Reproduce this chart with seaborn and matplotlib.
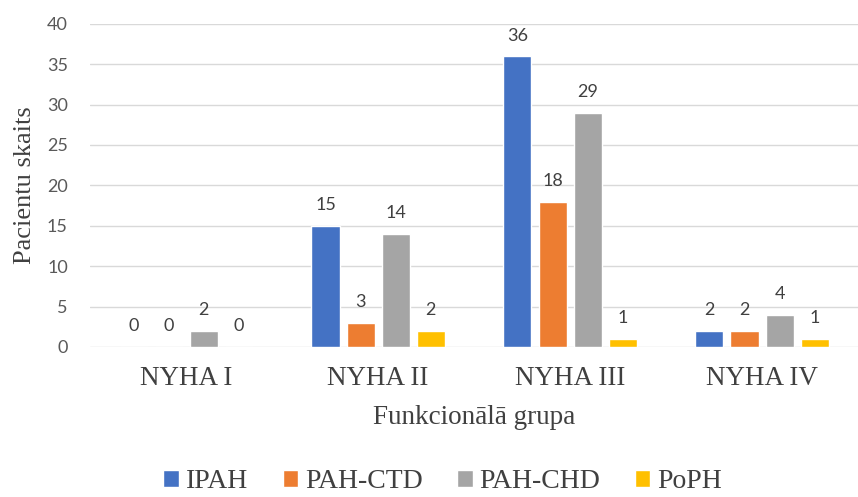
import numpy as np
import pandas as pd
import seaborn as sns
import matplotlib.pyplot as plt

# data
groups = ["NYHA I", "NYHA II", "NYHA III", "NYHA IV"]
series = ["IPAH", "PAH-CTD", "PAH-CHD", "PoPH"]
ipah = [0, 15, 36, 2]
pah_ctd = [0, 3, 18, 2]
pah_chd = [2, 14, 29, 4]
poph = [0, 2, 1, 1]
colors = ["#4472C4", "#ED7D31", "#A5A5A5", "#FFC000"]

rows = []
for name, vals in zip(series, [ipah, pah_ctd, pah_chd, poph]):
    for g, v in zip(groups, vals):
        rows.append({"grupa": g, "tips": name, "skaits": v})
df = pd.DataFrame(rows)

sns.set_style("white")
fig = plt.figure(figsize=(8.58, 4.97), dpi=100)
ax = fig.add_axes([0.105, 0.302, 0.895, 0.65])

sns.barplot(data=df, x="grupa", y="skaits", hue="tips", order=groups,
            hue_order=series, palette=colors, saturation=1,
            width=0.73, gap=0.2, ax=ax, legend=True)

for cont in ax.containers:
    ax.bar_label(cont, padding=9, fontsize=13, color="#404040", family="Lato")

ax.set_ylim(0, 40)
ax.set_xlim(-0.5, 3.5)
ax.set_yticks(range(0, 41, 5))
ax.yaxis.grid(True, color="#d9d9d9", linewidth=1)
ax.set_axisbelow(True)
sns.despine(ax=ax, left=True, bottom=True)
ax.tick_params(axis="both", length=0)
ax.tick_params(axis="y", pad=16, labelsize=13, labelcolor="#595959")
ax.tick_params(axis="x", pad=14, labelsize=19.5, labelcolor="#404040")
for t in ax.get_yticklabels():
    t.set_family("Lato")
for t in ax.get_xticklabels():
    t.set_family("Liberation Serif")

ax.set_xlabel("Funkcionālā grupa", family="Liberation Serif", fontsize=19.5,
              color="#404040", labelpad=10)
ax.set_ylabel("Pacientu skaits", family="Liberation Serif", fontsize=19,
              color="#404040", labelpad=8)

handles, labels = ax.get_legend_handles_labels()
ax.get_legend().remove()
fig.legend(handles, labels, loc="lower center", bbox_to_anchor=(0.516, -0.045),
           ncol=4, frameon=False, handlelength=0.55, handleheight=0.55,
           handletextpad=0.25, columnspacing=1.25,
           prop={"family": "Liberation Serif", "size": 20},
           labelcolor="#404040")

fig.savefig("out.png", dpi=100)
